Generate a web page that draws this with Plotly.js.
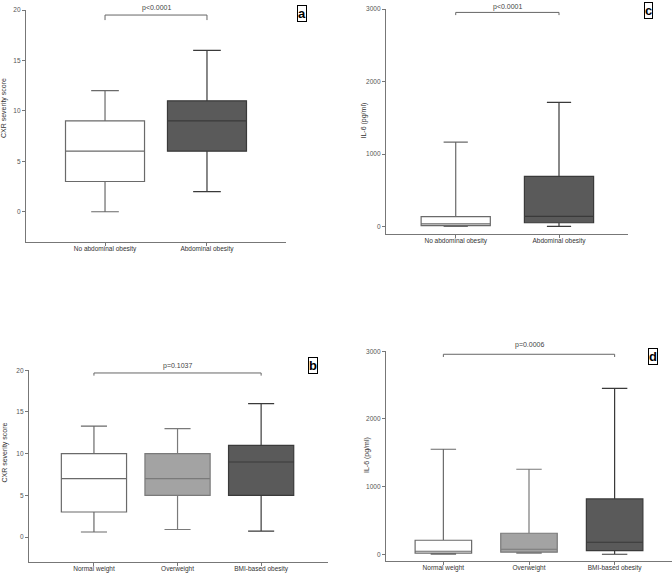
<!DOCTYPE html>
<html><head><meta charset="utf-8">
<script src="https://cdn.plot.ly/plotly-3.0.1.min.js"></script>
<style>html,body{margin:0;padding:0;background:#fff;}#chart{width:672px;height:573px;}</style>
</head><body><div id="chart"></div>
<script>
// ---- data ----
const catsA = ["No abdominal obesity", "Abdominal obesity"];
const a_min = [0, 2];
const a_q1 = [3, 6];
const a_med = [6, 9];
const a_q3 = [9, 11];
const a_max = [12, 16];

const c_min = [5, 5];
const c_q1 = [15, 55];
const c_med = [40, 143];
const c_q3 = [140, 694];
const c_max = [1165, 1713];

const catsB = ["Normal weight", "Overweight", "BMI-based obesity"];
const b_min = [0.6, 0.9, 0.7];
const b_q1 = [3, 5, 5];
const b_med = [7, 7, 9];
const b_q3 = [10, 10, 11];
const b_max = [13.3, 13, 16];

const d_min = [0, 15, 0];
const d_q1 = [15, 30, 54];
const d_med = [44, 74, 177];
const d_q3 = [207, 310, 818];
const d_max = [1552, 1256, 2453];

const pTexts = ["p<0.0001", "p<0.0001", "p=0.1037", "p=0.0006"];
const bracketA = [19.0, 19.5];
const bracketC = [2916, 2953];
const bracketB = [19.36, 19.68];
const bracketD = [2916, 2956];
const panelLabels = ["a", "c", "b", "d"];
const yTitles = ["CXR severity score", "IL-6 (pg/ml)", "CXR severity score", "IL-6 (pg/ml)"];

// ---- styles ----
const W = 672, H = 573;
const FONT = "Liberation Sans, Arial, sans-serif";
const fills2 = ["#ffffff", "#5a5a5a"];
const lines2 = ["#6a6a6a", "#3a3a3a"];
const fills3 = ["#ffffff", "#a3a3a3", "#5a5a5a"];
const lines3 = ["#6a6a6a", "#7a7a7a", "#3a3a3a"];

function px(x){ return x / W; }
function py(y){ return 1 - y / H; }

const traces = [];
function addBoxes(cats, mn, q1, md, q3, mx, fills, lines, xa, ya, width, ww){
  cats.forEach((c, i) => {
    traces.push({
      type: "box", x: [c], q1: [q1[i]], median: [md[i]], q3: [q3[i]],
      lowerfence: [mn[i]], upperfence: [mx[i]],
      fillcolor: fills[i], line: {color: lines[i], width: 1.2},
      width: width, whiskerwidth: ww, boxpoints: false,
      xaxis: xa, yaxis: ya, showlegend: false, hoverinfo: "skip"
    });
  });
}
addBoxes(catsA, a_min, a_q1, a_med, a_q3, a_max, fills2, lines2, "x", "y", 0.775, 0.35);
addBoxes(catsA, c_min, c_q1, c_med, c_q3, c_max, fills2, lines2, "x2", "y2", 0.67, 0.35);
addBoxes(catsB, b_min, b_q1, b_med, b_q3, b_max, fills3, lines3, "x3", "y3", 0.78, 0.4);
addBoxes(catsB, d_min, d_q1, d_med, d_q3, d_max, fills3, lines3, "x4", "y4", 0.66, 0.45);

function bracket(c0, c1, lev, xa, ya){
  traces.push({type: "scatter", mode: "lines", x: [c0, c0, c1, c1], y: [lev[0], lev[1], lev[1], lev[0]],
    line: {color: "#666", width: 1}, xaxis: xa, yaxis: ya, showlegend: false, hoverinfo: "skip", cliponaxis: false});
}
bracket(catsA[0], catsA[1], bracketA, "x", "y");
bracket(catsA[0], catsA[1], bracketC, "x2", "y2");
bracket(catsB[0], catsB[2], bracketB, "x3", "y3");
bracket(catsB[0], catsB[2], bracketD, "x4", "y4");

function xax(d0, d1, r, anchor, cats){
  return {domain: [px(d0), px(d1)], range: r, type: "category", categoryarray: cats, anchor: anchor,
    showgrid: false, zeroline: false, showline: true, linecolor: "#777", linewidth: 1.2,
    ticks: "outside", ticklen: 3, tickcolor: "#777", ticklabelstandoff: -3,
    tickfont: {family: FONT, size: 6.5, color: "#333"}, fixedrange: true};
}
function yax(top, bot, r, anchor, dt){
  return {domain: [py(bot), py(top)], range: r, anchor: anchor, dtick: dt, tick0: 0,
    showgrid: false, zeroline: false, showline: true, linecolor: "#777", linewidth: 1.2,
    ticks: "outside", ticklen: 3, tickcolor: "#777", tickfont: {family: FONT, size: 6.5, color: "#555"}, fixedrange: true};
}

const annotations = [];
function pLabel(text, xv, yv, xa, ya, shift){
  annotations.push({text: text, x: xv, y: yv, xref: xa, yref: ya, showarrow: false, yanchor: "bottom", yshift: shift,
    font: {family: FONT, size: 7, color: "#444"}});
}
pLabel(pTexts[0], 0.5, bracketA[1], "x", "y", 1);
pLabel(pTexts[1], 0.5, bracketC[1], "x2", "y2", -1);
pLabel(pTexts[2], 1, bracketB[1], "x3", "y3", 1);
pLabel(pTexts[3], 1, bracketD[1], "x4", "y4", 3);

function panelLabel(t, cx, cy){
  annotations.push({text: "<b>" + t + "</b>", x: px(cx), y: py(cy), xref: "paper", yref: "paper", showarrow: false,
    xanchor: "center", yanchor: "middle", font: {family: FONT, size: 13, color: "#000"},
    bordercolor: "#000", borderwidth: 1, borderpad: 0, bgcolor: "#fff"});
}
panelLabel(panelLabels[0], 301.5, 14);
panelLabel(panelLabels[1], 648.5, 10);
panelLabel(panelLabels[2], 313, 365.5);
panelLabel(panelLabels[3], 653, 356);

function yTitle(t, cx, cy){
  annotations.push({text: t, x: px(cx), y: py(cy), xref: "paper", yref: "paper", showarrow: false, textangle: -90,
    xanchor: "center", yanchor: "middle", font: {family: FONT, size: 7, color: "#333"}});
}
yTitle(yTitles[0], 4, 108);
yTitle(yTitles[1], 363.5, 121);
yTitle(yTitles[2], 4.5, 453);
yTitle(yTitles[3], 367, 455);

const layout = {
  width: W, height: H, margin: {l: 0, r: 0, t: 0, b: 0}, paper_bgcolor: "#fff", plot_bgcolor: "rgba(0,0,0,0)",
  showlegend: false, boxmode: "overlay",
  xaxis: xax(26, 286, [-0.775, 1.775], "y", catsA),
  yaxis: yax(10, 242, [-3, 20], "x", 5),
  xaxis2: xax(386, 628, [-0.675, 1.668], "y2", catsA),
  yaxis2: yax(9, 234, [-100, 3000], "x2", 1000),
  xaxis3: xax(29, 328, [-0.777, 2.80], "y3", catsB),
  yaxis3: yax(370.3, 562, [-3, 20], "x3", 5),
  xaxis4: xax(386, 672, [-0.67, 2.67], "y4", catsB),
  yaxis4: yax(351.3, 561, [-100, 3000], "x4", 1000),
  annotations: annotations
};
Plotly.newPlot("chart", traces, layout, {staticPlot: true, displayModeBar: false});
</script></body></html>
